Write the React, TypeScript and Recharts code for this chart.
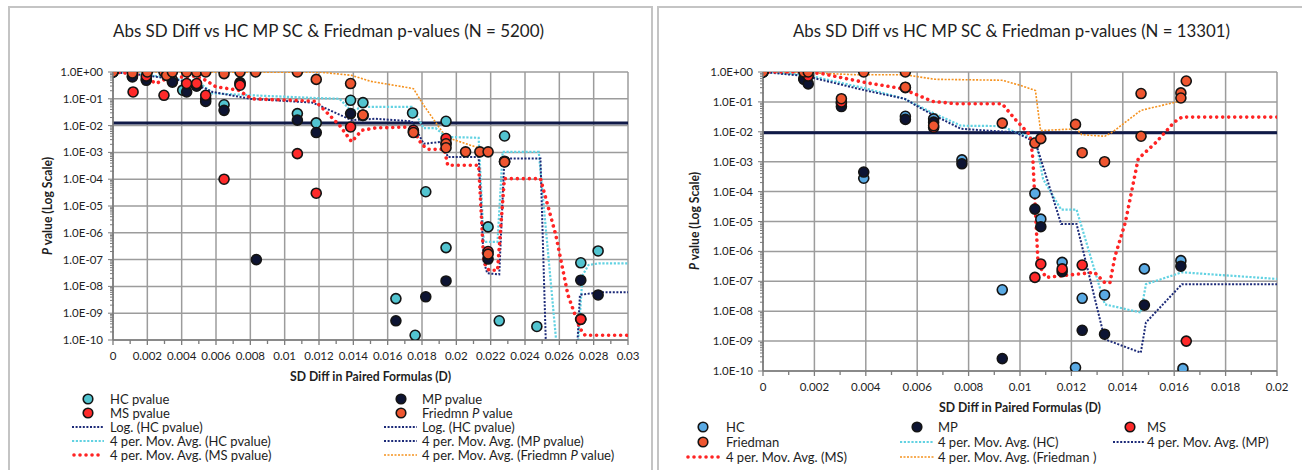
import React from 'react';
import { ComposedChart, Scatter, Line, XAxis, YAxis, CartesianGrid, ReferenceLine } from 'recharts';

type Pt = [number, number];

// ---- N = 5200 : [SD diff, p value] ----
const hc5200: Pt[] = [
  [0, 1], [0.00113, 0.7], [0.00194, 0.55], [0.00346, 0.5], [0.00406, 0.21], [0.00487, 0.3], [0.0054, 0.1],
  [0.00647, 0.06], [0.0074, 0.4], [0.01074, 0.028], [0.01184, 0.0126], [0.01384, 0.088], [0.01456, 0.072],
  [0.01648, 3.5e-9], [0.0176, 1.5e-10], [0.01745, 0.0296], [0.01822, 3.4e-5], [0.0194, 0.0145], [0.0194, 2.8e-7],
  [0.02185, 1.66e-6], [0.02281, 0.0041], [0.0225, 5.2e-10], [0.02469, 3.2e-10], [0.02725, 7.6e-8], [0.02826, 2.1e-7],
];
const mp5200: Pt[] = [
  [0, 1], [0.00113, 0.65], [0.00194, 0.49], [0.00346, 0.42], [0.00429, 0.18], [0.00487, 0.3], [0.0054, 0.08],
  [0.00647, 0.037], [0.0074, 0.37], [0.00835, 1e-7], [0.01074, 0.016], [0.01184, 0.0055], [0.01384, 0.028],
  [0.01456, 0.024], [0.01648, 5.2e-10], [0.0175, 0.0058], [0.01822, 4.1e-9], [0.0194, 0.0022], [0.0194, 1.6e-8],
  [0.02185, 1.05e-7], [0.02281, 4.5e-4], [0.02725, 1.7e-8], [0.02725, 6e-10], [0.02826, 4.8e-9],
];
const ms5200: Pt[] = [
  [0, 1], [0.00117, 0.18], [0.00194, 0.7], [0.00297, 0.135], [0.00429, 0.37], [0.00487, 0.37], [0.0054, 0.135],
  [0.00647, 1e-4], [0.0074, 0.32], [0.01074, 9e-4], [0.01184, 3e-5], [0.01384, 0.0089], [0.01456, 0.024],
  [0.0175, 0.0067], [0.0194, 0.0033], [0.02185, 2e-7], [0.02281, 4.7e-4], [0.02725, 5.9e-10],
];
const fr5200: Pt[] = [
  [0, 1], [0.00113, 0.92], [0.002, 1], [0.00297, 1], [0.00312, 0.75], [0.00346, 1], [0.00429, 1], [0.00487, 1],
  [0.0054, 1], [0.00647, 0.87], [0.0074, 1], [0.00831, 1], [0.01074, 1], [0.01184, 0.53], [0.01384, 0.37],
  [0.01456, 0.025], [0.0175, 0.0055], [0.0194, 0.0021], [0.0194, 0.0015], [0.02054, 0.00105], [0.02137, 0.00105],
  [0.02185, 0.00105], [0.02185, 1.6e-7], [0.02281, 4.4e-4],
];
const hcAvg5200: Pt[] = [
  [0, 1], [0.0025, 0.71], [0.005, 0.42], [0.0058, 0.16], [0.0081, 0.135], [0.0118, 0.107], [0.0132, 0.1],
  [0.0139, 0.034], [0.0145, 0.05], [0.0174, 0.05], [0.0181, 0.008], [0.0188, 0.008], [0.0194, 0.0038],
  [0.0213, 0.0035], [0.0216, 4.6e-7], [0.0224, 4.6e-7], [0.0227, 0.00105], [0.0248, 0.00105], [0.0261, 1e-12],
  [0.0269, 1e-12], [0.02735, 2.6e-8], [0.0277, 6.3e-8], [0.0283, 7.2e-8], [0.03, 7.2e-8],
];
const mpAvg5200: Pt[] = [
  [0, 1], [0.0019, 0.75], [0.0039, 0.49], [0.0054, 0.24], [0.0058, 0.18], [0.008, 0.1], [0.0116, 0.072],
  [0.012, 0.057], [0.0139, 0.016], [0.0153, 0.018], [0.0174, 0.0145], [0.0181, 0.0021], [0.0192, 0.0025],
  [0.0195, 6.8e-4], [0.0213, 6.8e-4], [0.0216, 8.3e-8], [0.0218, 3.1e-8], [0.0225, 2.8e-8], [0.0228, 5.9e-4],
  [0.0249, 5.9e-4], [0.0253, 1e-12], [0.0269, 1e-12], [0.0272, 4.8e-9], [0.0283, 6e-9], [0.03, 6e-9],
];
const msAvg5200: Pt[] = [
  [0, 1], [0.00113, 0.87], [0.0019, 0.65], [0.0025, 0.37], [0.0031, 0.56], [0.004, 0.65], [0.0048, 0.71],
  [0.0054, 0.49], [0.006, 0.28], [0.0073, 0.21], [0.0081, 0.1], [0.0118, 0.081], [0.0132, 0.0102],
  [0.0139, 0.0025], [0.0145, 0.0067], [0.0153, 0.0082], [0.0174, 0.0089], [0.018, 0.0019], [0.0184, 0.0013],
  [0.0193, 0.0013], [0.0195, 3.3e-4], [0.0213, 3.3e-4], [0.0216, 8e-8], [0.0219, 4e-8], [0.0224, 4e-8],
  [0.0228, 1.05e-4], [0.0249, 1.05e-4], [0.0258, 8e-7], [0.0265, 4.8e-9], [0.0272, 2.7e-10], [0.0275, 1.5e-10],
  [0.03, 1.5e-10],
];
const frAvg5200: Pt[] = [
  [0, 1], [0.0121, 0.98], [0.0139, 0.75], [0.015, 0.45], [0.0175, 0.24], [0.0181, 0.057], [0.0194, 0.0037],
  [0.0219, 0.0011],
];
const cutoff5200 = 0.0125;

// ---- N = 13301 ----
const hc13301: Pt[] = [
  [0, 1], [0.00159, 0.6], [0.00305, 0.09], [0.00392, 2.8e-4], [0.00554, 0.033], [0.00664, 0.027],
  [0.00774, 1.15e-3], [0.00931, 5.2e-8], [0.01058, 8.7e-5], [0.01081, 1.2e-5], [0.01164, 4.3e-7],
  [0.01216, 1.3e-10], [0.01242, 2.7e-8], [0.01329, 3.5e-8], [0.01484, 2.6e-7], [0.01626, 4.9e-7], [0.01634, 1.2e-10],
];
const mp13301: Pt[] = [
  [0, 1], [0.00159, 0.57], [0.00176, 0.4], [0.00305, 0.07], [0.00392, 4.5e-4], [0.00554, 0.026], [0.00664, 0.021],
  [0.00774, 8.5e-4], [0.00931, 2.6e-10], [0.01058, 2.6e-5], [0.01081, 6.7e-6], [0.01164, 2.1e-7], [0.01242, 2.3e-9],
  [0.01329, 1.7e-9], [0.01484, 1.6e-8], [0.01626, 3.2e-7],
];
const ms13301: Pt[] = [
  [0, 1], [0.00176, 0.73], [0.00305, 0.099], [0.00554, 0.3], [0.00664, 0.014], [0.01058, 1.35e-7],
  [0.01081, 3.8e-7], [0.01164, 2.6e-7], [0.01242, 3.5e-7], [0.01647, 1.0e-9],
];
const fr13301: Pt[] = [
  [0, 1], [0.00159, 1], [0.00176, 1], [0.00305, 0.128], [0.00392, 1], [0.00554, 1], [0.00554, 0.31],
  [0.00664, 0.016], [0.00931, 0.0195], [0.01058, 0.0042], [0.01081, 0.0059], [0.01216, 0.0177], [0.01242, 0.002],
  [0.01329, 0.001], [0.01471, 0.19], [0.01471, 0.0071], [0.01626, 0.2], [0.01626, 0.135], [0.01647, 0.5],
];
const hcAvg13301: Pt[] = [
  [0, 1], [0.00166, 0.81], [0.004, 0.28], [0.0055, 0.128], [0.0064, 0.052], [0.0077, 0.016], [0.0093, 0.0155],
  [0.0098, 0.0098], [0.0106, 0.0059], [0.0109, 2.6e-4], [0.0116, 2.5e-5], [0.0122, 2.5e-5], [0.0133, 1.7e-8],
  [0.0147, 9e-9], [0.0149, 8e-8], [0.0163, 2e-7], [0.02, 1.2e-7],
];
const mpAvg13301: Pt[] = [
  [0, 1], [0.00166, 0.73], [0.004, 0.24], [0.0055, 0.128], [0.0064, 0.046], [0.0077, 0.0126], [0.0093, 0.0102],
  [0.0098, 0.0098], [0.0106, 0.0045], [0.0116, 8.3e-6], [0.0122, 8.3e-6], [0.0133, 1.15e-9], [0.0147, 4.1e-10],
  [0.0149, 4.2e-9], [0.0163, 8e-8], [0.02, 8e-8],
];
const msAvg13301: Pt[] = [
  [0, 1], [0.00166, 1], [0.0023, 0.88], [0.004, 0.44], [0.0054, 0.28], [0.0066, 0.104], [0.0075, 0.087],
  [0.0093, 0.087], [0.0098, 0.027], [0.0104, 0.0076], [0.0105, 0.00125], [0.0107, 4.3e-7], [0.011, 1.35e-7],
  [0.0129, 2e-7], [0.0133, 9e-8], [0.0135, 9e-8], [0.0137, 7e-7], [0.0141, 9.4e-6], [0.0146, 0.00125],
  [0.0153, 0.0045], [0.016, 0.021], [0.0163, 0.031], [0.02, 0.031],
];
const frAvg13301: Pt[] = [
  [0, 1], [0.00166, 0.95], [0.0036, 0.81], [0.0055, 0.81], [0.0061, 0.68], [0.0067, 0.57], [0.0093, 0.53],
  [0.01, 0.36], [0.0106, 0.24], [0.0108, 0.011], [0.0122, 0.0126], [0.0124, 0.008], [0.0133, 0.0071],
  [0.0136, 0.0098], [0.0147, 0.052], [0.0163, 0.11],
];
const cutoff13301 = 0.0093;

const xTicks5200 = [0, 0.002, 0.004, 0.006, 0.008, 0.01, 0.012, 0.014, 0.016, 0.018, 0.02, 0.022, 0.024, 0.026, 0.028, 0.03];
const xTicks13301 = [0, 0.002, 0.004, 0.006, 0.008, 0.01, 0.012, 0.014, 0.016, 0.018, 0.02];
const yDecades = [1e-10, 1e-9, 1e-8, 1e-7, 1e-6, 1e-5, 1e-4, 1e-3, 1e-2, 1e-1, 1];

const C = {
  hcA: '#52c4d0',
  hcB: '#5aaae4',
  mp: '#0d1433',
  ms: '#ff2a2a',
  fr: '#ef5630',
  hcLine: '#62d2e2',
  mpLine: '#1c2a78',
  msLine: '#ff2424',
  frLine: '#f5921f',
  cut: '#101a48',
  grid: '#9c9c9c',
  axis: '#7c7c7c',
  text: '#1e1e1e',
};

const FONT = 'Lato, "Open Sans", sans-serif';

const toPts = (a: Pt[]) => a.map(([x, y]) => ({ x, y }));

// minor ticks every 0.001 on x, 2..9 per decade on y
const withMinorX = (major: number[]) =>
  major.flatMap((v, i) => (i === 0 ? [v] : [+(v - 0.001).toFixed(4), v]));
const yAll = yDecades.flatMap((d, i) =>
  i === yDecades.length - 1 ? [d] : [d, ...[2, 3, 4, 5, 6, 7, 8, 9].map((k) => k * d)]
);

const fmtY = (v: number) => {
  const e = Math.round(Math.log10(v));
  return `1.0E${e >= 0 ? '+' : '-'}${String(Math.abs(e)).padStart(2, '0')}`;
};

function XTick(props: any) {
  const { x, y, payload } = props;
  const v = payload.value as number;
  const major = Math.round(v * 1000) % 2 === 0;
  return (
    <g>
      <line x1={x} x2={x} y1={y} y2={y + (major ? 5 : 4)} stroke={C.axis} strokeWidth={1.3} />
      {major && (
        <text x={x} y={y + 20} textAnchor="middle" fontSize={11.5} fill={C.text} fontFamily={FONT}>
          {String(parseFloat(v.toFixed(3)))}
        </text>
      )}
    </g>
  );
}

function YTick(props: any) {
  const { x, y, payload } = props;
  const v = payload.value as number;
  const e = Math.log10(v);
  const major = Math.abs(e - Math.round(e)) < 1e-6;
  return (
    <g>
      <line x1={x - (major ? 5 : 3)} x2={x + (major ? 0 : 1)} y1={y} y2={y} stroke={C.axis} strokeWidth={1} />
      {major && (
        <text x={x - 10} y={y + 4} textAnchor="end" fontSize={11.5} fill={C.text} fontFamily={FONT}>
          {fmtY(v)}
        </text>
      )}
    </g>
  );
}

const dot = (fill: string) => (p: any) =>
  <circle cx={p.cx} cy={p.cy} r={5} fill={fill} stroke="#141414" strokeWidth={1.6} />;

interface PanelProps {
  width: number;
  height: number;
  margin: { top: number; right: number; bottom: number; left: number };
  xMajor: number[];
  hc: Pt[]; mp: Pt[]; ms: Pt[]; fr: Pt[];
  hcAvg: Pt[]; mpAvg: Pt[]; msAvg: Pt[]; frAvg: Pt[];
  cutoff: number;
  hcColor: string;
}

function Panel(p: PanelProps) {
  const xAll = withMinorX(p.xMajor);
  return (
    <ComposedChart width={p.width} height={p.height} margin={p.margin}>
      <CartesianGrid horizontalValues={yDecades} verticalValues={p.xMajor} stroke={C.grid} strokeWidth={1.5} />
      <XAxis
        type="number"
        dataKey="x"
        domain={[p.xMajor[0], p.xMajor[p.xMajor.length - 1]]}
        ticks={xAll}
        interval={0}
        tickSize={0}
        tickMargin={0}
        tickLine={false}
        tick={(t: any) => <XTick {...t} />}
        axisLine={{ stroke: C.axis, strokeWidth: 1.6 }}
        height={30}
        allowDataOverflow
      />
      <YAxis
        type="number"
        dataKey="y"
        scale="log"
        domain={[1e-10, 1]}
        ticks={yAll}
        interval={0}
        tickSize={0}
        tickMargin={0}
        tickLine={false}
        tick={(t: any) => <YTick {...t} />}
        axisLine={{ stroke: C.axis, strokeWidth: 1.6 }}
        width={100}
        allowDataOverflow
      />
      <ReferenceLine y={p.cutoff} stroke={C.cut} strokeWidth={3} />
      <Line data={toPts(p.frAvg)} dataKey="y" stroke={C.frLine} strokeWidth={1.6} strokeDasharray="2 1.5" dot={false} isAnimationActive={false} />
      <Line data={toPts(p.hcAvg)} dataKey="y" stroke={C.hcLine} strokeWidth={2.2} strokeDasharray="2.2 1.6" dot={false} isAnimationActive={false} />
      <Line data={toPts(p.mpAvg)} dataKey="y" stroke={C.mpLine} strokeWidth={2} strokeDasharray="2 1.6" dot={false} isAnimationActive={false} />
      <Line data={toPts(p.msAvg)} dataKey="y" stroke={C.msLine} strokeWidth={3.6} strokeDasharray="0.01 6" strokeLinecap="round" dot={false} isAnimationActive={false} />
      <Scatter data={toPts(p.hc)} shape={dot(p.hcColor)} isAnimationActive={false} />
      <Scatter data={toPts(p.mp)} shape={dot(C.mp)} isAnimationActive={false} />
      <Scatter data={toPts(p.ms)} shape={dot(C.ms)} isAnimationActive={false} />
      <Scatter data={toPts(p.fr)} shape={dot(C.fr)} isAnimationActive={false} />
    </ComposedChart>
  );
}

type Mark =
  | { dot: string }
  | { line: string; w: number; dash: string; round?: boolean };

function Key({ x, x2, tx, y, mark, children }: { x: number; x2?: number; tx: number; y: number; mark: Mark; children: React.ReactNode }) {
  let icon: React.ReactNode;
  if ('dot' in mark) {
    icon = (
      <svg style={{ position: 'absolute', left: x - 7, top: y - 7 }} width={14} height={14}>
        <circle cx={7} cy={7} r={4.8} fill={mark.dot} stroke="#141414" strokeWidth={1.6} />
      </svg>
    );
  } else {
    const w = (x2 ?? x + 32) - x;
    icon = (
      <svg style={{ position: 'absolute', left: x, top: y - 5 }} width={w} height={10}>
        <line x1={mark.round ? 2 : 0} x2={w} y1={5} y2={5} stroke={mark.line} strokeWidth={mark.w}
          strokeDasharray={mark.dash} strokeLinecap={mark.round ? 'round' : 'butt'} />
      </svg>
    );
  }
  return (
    <>
      {icon}
      <div style={{ position: 'absolute', left: tx, top: y, transform: 'translateY(-50%)', fontSize: 13, whiteSpace: 'nowrap', color: C.text }}>
        {children}
      </div>
    </>
  );
}

const hcMA: Mark = { line: C.hcLine, w: 2.2, dash: '2.2 1.6' };
const mpMA: Mark = { line: C.mpLine, w: 2, dash: '2 1.6' };
const msMA: Mark = { line: C.msLine, w: 3.6, dash: '0.01 6', round: true };
const frMA: Mark = { line: C.frLine, w: 1.6, dash: '2 1.5' };

// text fitted to the measured extent of the reference
function Fit({ x, y, len, size, weight, rotate, children }: any) {
  return (
    <text
      x={x} y={y} textAnchor="middle" dominantBaseline="central" fontSize={size} fontWeight={weight}
      fill={C.text} fontFamily={FONT} textLength={len} lengthAdjust="spacingAndGlyphs"
      transform={rotate ? `rotate(-90 ${x} ${y})` : undefined}
    >
      {children}
    </text>
  );
}

export default function App() {
  return (
    <div style={{ position: 'absolute', left: 0, top: 0, width: 1302, height: 470, overflow: 'hidden', background: '#fff', fontFamily: FONT }}>
      <div style={{ position: 'absolute', left: 8, top: 6, width: 645, height: 520, border: '2px solid #c4c4c4', boxSizing: 'border-box' }} />
      <div style={{ position: 'absolute', left: 657, top: 6, width: 700, height: 520, border: '2px solid #c4c4c4', boxSizing: 'border-box' }} />

      <div style={{ position: 'absolute', left: 0, top: 0 }}>
        <Panel width={640} height={400} margin={{ top: 72, right: 12, bottom: 30, left: 13 }} xMajor={xTicks5200}
          hc={hc5200} mp={mp5200} ms={ms5200} fr={fr5200}
          hcAvg={hcAvg5200} mpAvg={mpAvg5200} msAvg={msAvg5200} frAvg={frAvg5200}
          cutoff={cutoff5200} hcColor={C.hcA} />
      </div>
      <div style={{ position: 'absolute', left: 650, top: 0 }}>
        <Panel width={652} height={420} margin={{ top: 72, right: 25, bottom: 19, left: 13 }} xMajor={xTicks13301}
          hc={hc13301} mp={mp13301} ms={ms13301} fr={fr13301}
          hcAvg={hcAvg13301} mpAvg={mpAvg13301} msAvg={msAvg13301} frAvg={frAvg13301}
          cutoff={cutoff13301} hcColor={C.hcB} />
      </div>

      <svg style={{ position: 'absolute', left: 0, top: 0, pointerEvents: 'none' }} width={1302} height={470}>
        <Fit x={328.5} y={30} len={431} size={17.5}>Abs SD Diff vs HC MP SC &amp; Friedman p-values (N = 5200)</Fit>
        <Fit x={1011.5} y={30} len={437} size={17.5}>Abs SD Diff vs HC MP SC &amp; Friedman p-values (N = 13301)</Fit>
        <Fit x={47} y={206} len={98} size={13} weight={700} rotate>
          <tspan fontStyle="italic">P</tspan> value (Log Scale)
        </Fit>
        <Fit x={694} y={221} len={98} size={13} weight={700} rotate>
          <tspan fontStyle="italic">P</tspan> value (Log Scale)
        </Fit>
        <Fit x={370.5} y={376} len={161} size={13} weight={700}>SD Diff in Paired Formulas (D)</Fit>
        <Fit x={1020} y={407} len={162} size={13} weight={700}>SD Diff in Paired Formulas (D)</Fit>
      </svg>

      {/* legend, N = 5200 */}
      <Key x={88} tx={110} y={399} mark={{ dot: C.hcA }}>HC pvalue</Key>
      <Key x={88} tx={110} y={413} mark={{ dot: C.ms }}>MS pvalue</Key>
      <Key x={72} x2={104} tx={110} y={427} mark={mpMA}>Log. (HC pvalue)</Key>
      <Key x={72} x2={104} tx={110} y={441} mark={hcMA}>4 per. Mov. Avg. (HC pvalue)</Key>
      <Key x={72} x2={104} tx={110} y={455} mark={msMA}>4 per. Mov. Avg. (MS pvalue)</Key>
      <Key x={401} tx={422} y={399} mark={{ dot: C.mp }}>MP pvalue</Key>
      <Key x={401} tx={422} y={413} mark={{ dot: C.fr }}>Friedmn <i>P</i> value</Key>
      <Key x={384} x2={417} tx={422} y={427} mark={mpMA}>Log. (HC pvalue)</Key>
      <Key x={384} x2={417} tx={422} y={441} mark={mpMA}>4 per. Mov. Avg. (MP pvalue)</Key>
      <Key x={384} x2={417} tx={422} y={455} mark={frMA}>4 per. Mov. Avg. (Friedmn <i>P</i> value)</Key>

      {/* legend, N = 13301 */}
      <Key x={703} tx={726} y={427} mark={{ dot: C.hcB }}>HC</Key>
      <Key x={703} tx={726} y={442} mark={{ dot: C.fr }}>Friedman</Key>
      <Key x={686} x2={722} tx={726} y={457} mark={msMA}>4 per. Mov. Avg. (MS)</Key>
      <Key x={917} tx={938} y={427} mark={{ dot: C.mp }}>MP</Key>
      <Key x={900} x2={934} tx={938} y={442} mark={hcMA}>4 per. Mov. Avg. (HC)</Key>
      <Key x={900} x2={934} tx={938} y={457} mark={frMA}>4 per. Mov. Avg. (Friedman )</Key>
      <Key x={1130} tx={1147} y={427} mark={{ dot: C.ms }}>MS</Key>
      <Key x={1113} x2={1145} tx={1147} y={442} mark={mpMA}>4 per. Mov. Avg. (MP)</Key>
    </div>
  );
}
